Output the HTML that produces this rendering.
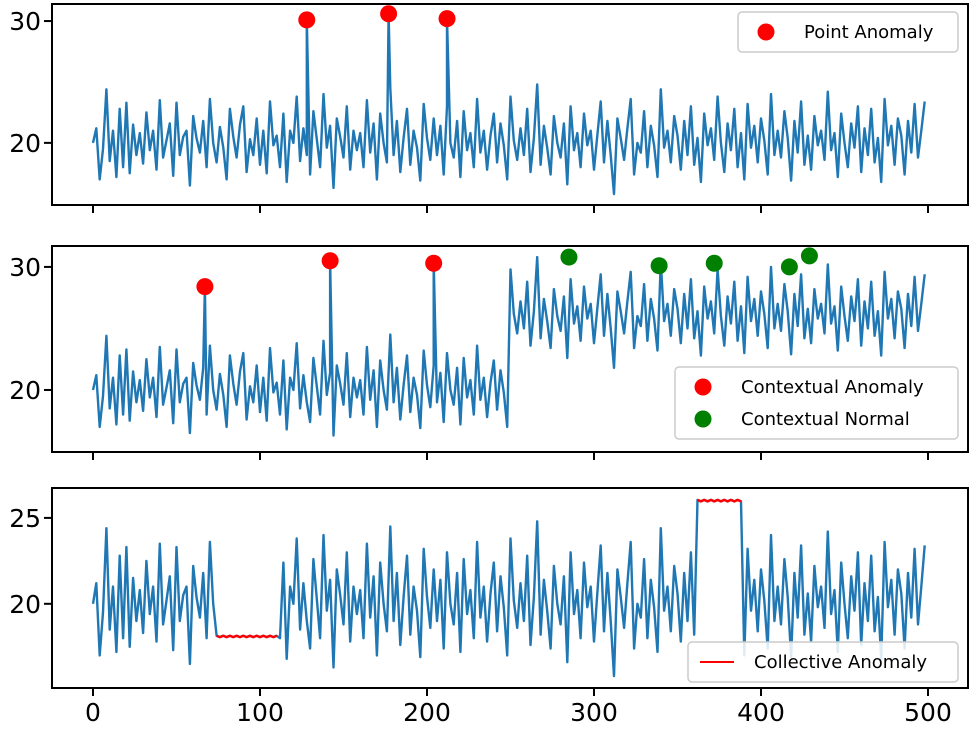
<!DOCTYPE html>
<html><head><meta charset="utf-8"><style>
body{margin:0;background:#fff}
svg text{font-family:"DejaVu Sans","Liberation Sans",sans-serif}
</style></head><body>
<svg id="chart" width="975" height="730" viewBox="0 0 975 730" xmlns="http://www.w3.org/2000/svg"></svg>
<script>
const base = [
20.0,21.2,17.0,19.5,24.4,18.5,21.0,17.2,22.8,18.0,
23.3,17.5,21.5,19.0,20.8,18.3,22.5,19.4,21.0,17.8,
23.5,18.8,20.2,21.6,17.3,23.3,19.0,20.5,21.0,16.5,
22.2,20.4,19.2,21.8,18.0,23.6,20.0,18.4,21.3,19.6,
17.0,22.8,20.5,18.8,21.5,23.0,17.6,20.3,19.0,22.0,
18.2,21.0,17.5,23.4,19.8,20.6,18.0,22.4,16.8,21.0,
20.0,23.8,18.5,21.2,19.0,17.4,22.6,20.3,18.0,24.0,
19.6,21.4,16.3,22.0,20.5,18.8,23.0,17.8,21.0,19.4,
20.8,18.0,23.5,19.2,21.6,17.0,22.4,20.0,18.4,24.5,
19.0,21.8,17.6,20.4,22.8,18.2,21.0,19.6,16.9,23.2,
20.4,18.6,22.0,19.0,21.4,17.4,23.0,20.0,18.8,21.8,
17.2,22.6,19.4,20.8,18.0,23.6,19.2,21.0,17.8,20.6,
22.4,18.4,21.6,19.8,17.0,23.8,20.2,18.6,21.2,19.0,
22.8,17.6,20.4,24.8,18.2,21.4,19.6,17.4,22.2,20.0,
18.8,21.6,16.6,23.0,19.4,20.8,18.0,22.4,19.8,21.0,
17.8,20.6,23.4,18.4,21.8,19.0,15.8,22.0,20.4,18.6,
21.2,23.6,17.4,20.0,19.2,22.6,18.0,21.4,19.8,17.2,
24.4,19.6,21.0,18.4,22.2,20.6,17.8,21.8,19.0,23.0,
18.2,20.4,16.8,22.4,19.8,21.2,18.6,23.8,20.0,17.6,
21.6,19.4,22.8,18.0,20.8,17.0,23.2,19.6,21.4,18.4,
22.0,20.2,17.4,24.0,19.0,21.0,18.8,22.6,20.4,16.9,
21.8,19.2,23.4,18.2,20.6,17.8,22.2,19.8,21.0,18.6,
24.2,19.4,20.8,17.2,22.4,20.0,18.0,21.6,19.6,23.0,
17.6,21.2,19.0,22.8,18.4,20.4,16.8,23.6,19.8,21.4,
18.2,22.0,20.6,17.4,21.8,19.2,23.2,18.8,21.0,23.4
];
const spikeX = [128, 177, 212];
const spikeY = [30.1, 30.6, 30.2];
const ctxSpikeX = [67, 142, 204];
const ctxSpikeY = [28.4, 30.5, 30.3];
const normX = [285, 339, 372, 417, 429];
const normY = [30.8, 30.1, 30.3, 30.0, 30.9];
const shiftAt = 250, shiftBy = 6;
const coll1 = [73, 111], coll1Val = 18.1;
const coll2 = [362, 389], coll2Val = 26.0;
const xTicks = [0, 100, 200, 300, 400, 500];
const yTicks1 = [20, 30], yTicks2 = [20, 30], yTicks3 = [20, 25];

const svg = document.getElementById('chart');
const NS = 'http://www.w3.org/2000/svg';
function mk(tag, attrs, parent){const e=document.createElementNS(NS,tag);for(const k in attrs)e.setAttribute(k,attrs[k]);(parent||svg).appendChild(e);return e;}
const X0=52, X1=968;
const sx = v => 93 + v*(928-93)/500;
const panels = [
 {top:4,bot:205,ymin:14.9,ymax:31.4,ticks:yTicks1},
 {top:246,bot:452,ymin:14.96,ymax:31.7,ticks:yTicks2},
 {top:488,bot:688,ymin:15.1,ymax:26.74,ticks:yTicks3}
];
panels.forEach(p=>p.sy=v=>p.bot-(v-p.ymin)/(p.ymax-p.ymin)*(p.bot-p.top));

function series(spx, spy, transform){
  const pts=[];
  base.forEach((v,i)=>pts.push([i*2, transform?transform(i*2,v):v]));
  spx.forEach((x,k)=>pts.push([x, spy[k]]));
  pts.sort((a,b)=>a[0]-b[0]);
  return pts;
}
function drawLine(p, pts, color, name, w){
  const d=pts.map((q,i)=>(i?'L':'M')+sx(q[0]).toFixed(1)+' '+p.sy(q[1]).toFixed(1)).join(' ');
  const el=mk('path',{d:d,fill:'none',stroke:color,'stroke-width':w||2.4,'stroke-linejoin':'round'});
  
  
}
function dot(p,x,y,color,name){
  const el=mk('circle',{cx:sx(x),cy:p.sy(y),r:8.5,fill:color});
  
  
}
function axes(p, idx){
  const g=mk('g',{});
  
  
  mk('rect',{x:X0,y:p.top,width:X1-X0,height:p.bot-p.top,fill:'none',stroke:'#000','stroke-width':2},g);
  xTicks.forEach(t=>{
    mk('line',{x1:sx(t),x2:sx(t),y1:p.bot,y2:p.bot+8,stroke:'#000','stroke-width':2},g);
    if(idx===2){const tx=mk('text',{x:sx(t),y:p.bot+33,'font-size':25,'text-anchor':'middle'},g);tx.textContent=t;
      
      }
  });
  p.ticks.forEach(t=>{
    mk('line',{x1:X0-8,x2:X0,y1:p.sy(t),y2:p.sy(t),stroke:'#000','stroke-width':2},g);
    const tx=mk('text',{x:X0-11,y:p.sy(t)+9,'font-size':25,'text-anchor':'end'},g);tx.textContent=t;
    
    
  });
}
function legend(x,y,w,entries,name){
  const g=mk('g',{});
  
  
  mk('rect',{x:x,y:y,width:w,height:entries.length*32+8,rx:4,fill:'rgba(255,255,255,0.85)',stroke:'#ccc','stroke-width':1.5},g);
  entries.forEach((e,i)=>{
    const cy=y+20+i*32;
    if(e.type==='dot') mk('circle',{cx:x+28,cy:cy,r:8.5,fill:e.color},g);
    else mk('line',{x1:x+12,x2:x+46,y1:cy,y2:cy,stroke:e.color,'stroke-width':2},g);
    const t=mk('text',{x:x+66,y:cy+6,'font-size':18},g);t.textContent=e.label;
    
    
  });
}
// Panel 1
const P1=panels[0];
drawLine(P1, series(spikeX, spikeY), '#1f77b4', 'point-series');
spikeX.forEach((x,k)=>dot(P1,x,spikeY[k],'#ff0000','point-anomaly-marker'));
axes(P1,0);
legend(738,12,220,[{type:'dot',color:'#ff0000',label:'Point Anomaly'}],'legend-point');
// Panel 2
const P2=panels[1];
drawLine(P2, series(ctxSpikeX, ctxSpikeY, (x,v)=>x>=shiftAt?v+shiftBy:v), '#1f77b4', 'contextual-series');
ctxSpikeX.forEach((x,k)=>dot(P2,x,ctxSpikeY[k],'#ff0000','contextual-anomaly-marker'));
normX.forEach((x,k)=>dot(P2,x,normY[k],'#008000','contextual-normal-marker'));
axes(P2,1);
legend(675,367,283,[{type:'dot',color:'#ff0000',label:'Contextual Anomaly'},{type:'dot',color:'#008000',label:'Contextual Normal'}],'legend-contextual');
// Panel 3
const P3=panels[2];
const inC=(x,c)=>x>=c[0]&&x<=c[1];
const s3=series([],[],(x,v)=>inC(x,coll1)?coll1Val+((x/2)%2?0.04:-0.04):inC(x,coll2)?coll2Val+((x/2)%2?0.05:-0.04):v);
drawLine(P3, s3, '#1f77b4', 'collective-series');
drawLine(P3, s3.filter(q=>inC(q[0],coll1)), '#ff0000', 'collective-anomaly-1');
drawLine(P3, s3.filter(q=>inC(q[0],coll2)), '#ff0000', 'collective-anomaly-2');
axes(P3,2);
legend(688,642,270,[{type:'line',color:'#ff0000',label:'Collective Anomaly'}],'legend-collective');
</script>
</body></html>
